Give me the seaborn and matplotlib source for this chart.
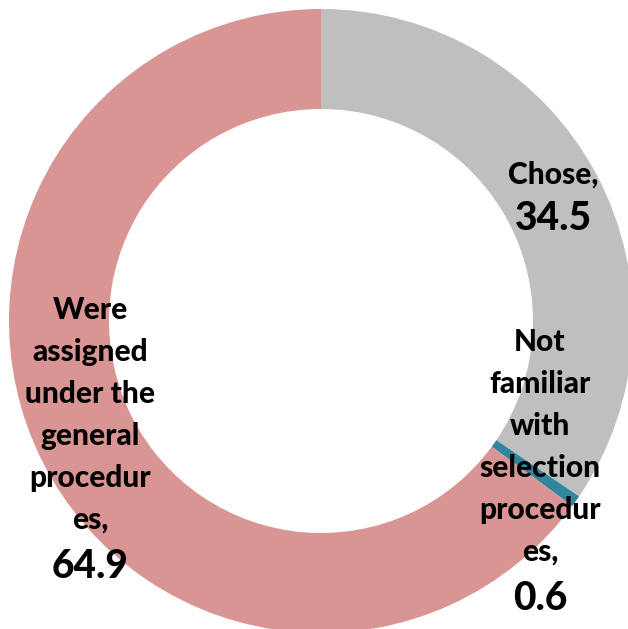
import matplotlib
matplotlib.use("Agg")
import matplotlib.pyplot as plt
import seaborn as sns

categories = ["Chose", "Not familiar with selection procedures",
              "Were assigned under the general procedures"]
values = [34.5, 0.6, 64.9]
value_labels = ["34.5", "0.6", "64.9"]
name_lines = [
    ["Chose,"],
    ["Not", "familiar", "with", "selection", "procedur", "es,"],
    ["Were", "assigned", "under the", "general", "procedur", "es,"],
]
colors = ["#BFBFBF", "#31859C", "#D99594"]

sns.set_theme(style="white")
plt.rcParams["font.family"] = ["Lato", "DejaVu Sans"]

W, H = 628, 629
fig = plt.figure(figsize=(W / 100, H / 100), dpi=100)
ax = fig.add_axes([0, 0, 1, 1])

cx, cy = 321, 321  # centre in pixels from top-left
R, ring = 312, 100
ax.pie(values, colors=colors, startangle=90, counterclock=False,
       radius=R, center=(0, 0),
       wedgeprops=dict(width=ring, linewidth=0))
ax.set_xlim(-cx, W - cx)
ax.set_ylim(-(H - cy), cy)
ax.set_aspect("equal")
ax.axis("off")

# label layout: (x centre, first line y, line step, number y) in pixels from top
layout = [
    (553, 175, 42, 219),
    (540, 342, 42, 599),
    (90, 310, 42, 566),
]
name_size, num_size = 21.5, 28
for (x, y0, step, yn), lines, num in zip(layout, name_lines, value_labels):
    for i, line in enumerate(lines):
        ax.text(x - cx, cy - (y0 + i * step), line, ha="center", va="center",
                fontsize=name_size, fontweight="black", color="black")
    ax.text(x - cx, cy - yn, num, ha="center", va="center",
            fontsize=num_size, fontweight="black", color="black")

fig.savefig("out.png", dpi=100)
